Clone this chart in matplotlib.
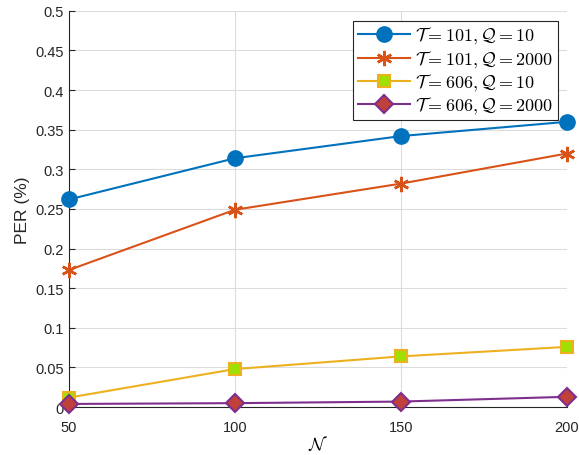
import numpy as np
import matplotlib
matplotlib.use("Agg")
import matplotlib.pyplot as plt

plt.rcParams["mathtext.fontset"] = "cm"
plt.rcParams["font.family"] = ["Liberation Sans", "DejaVu Sans"]

N = [50, 100, 150, 200]
per_t101_q10 = [0.262, 0.314, 0.342, 0.360]
per_t101_q2000 = [0.173, 0.249, 0.282, 0.320]
per_t606_q10 = [0.012, 0.048, 0.064, 0.076]
per_t606_q2000 = [0.004, 0.005, 0.007, 0.013]

labels = [r"$\mathcal{T}=101, \mathcal{Q}=10$",
          r"$\mathcal{T}=101, \mathcal{Q}=2000$",
          r"$\mathcal{T}=606, \mathcal{Q}=10$",
          r"$\mathcal{T}=606, \mathcal{Q}=2000$"]

fig = plt.figure(figsize=(5.79, 4.56), dpi=100)
ax = fig.add_axes([0.119, 0.105, 0.860, 0.869])

ax.plot(N, per_t101_q10, "-o", color="#0072BD", lw=1.5, ms=11,
        mfc="#0072BD", mec="#0072BD", label=labels[0], clip_on=False, zorder=5)
ax.plot(N, per_t101_q2000, "-", marker=(6, 2, 0), color="#D95319", lw=1.5, ms=11,
        mew=1.8, mec="#D95319", label=labels[1], clip_on=False, zorder=5)
ax.plot(N, per_t606_q10, "-s", color="#EDB120", lw=1.5, ms=9,
        mfc="#A0E000", mec="#EDB120", mew=1.5, label=labels[2], clip_on=False, zorder=5)
ax.plot(N, per_t606_q2000, "-D", color="#7E2F8E", lw=1.5, ms=9,
        mfc="#C0403A", mec="#7E2F8E", mew=1.5, label=labels[3], clip_on=False, zorder=5)

ax.set_xlim(50, 200)
ax.set_ylim(0, 0.5)
ax.set_xticks([50, 100, 150, 200])
ax.set_yticks(np.arange(0, 0.501, 0.05))
ax.set_yticklabels(["0", "0.05", "0.1", "0.15", "0.2", "0.25", "0.3", "0.35",
                    "0.4", "0.45", "0.5"])
ax.grid(True, color="#dcdcdc", lw=0.8)
ax.set_axisbelow(True)
for s in ["top", "right"]:
    ax.spines[s].set_visible(False)
ax.spines["left"].set_color("#262626")
ax.spines["bottom"].set_color("#262626")
ax.tick_params(direction="in", labelsize=10.5, colors="#262626", length=4)
ax.tick_params(axis="x", pad=9)
ax.set_xlabel(r"$\mathcal{N}$", fontsize=13, labelpad=0)
ax.set_ylabel("PER (%)", fontsize=12.5, color="#262626")

leg = ax.legend(loc="upper right", bbox_to_anchor=(0.982, 0.975), fontsize=13,
                fancybox=False, edgecolor="#262626", framealpha=1,
                handlelength=2.9, borderpad=0.25, labelspacing=0.12,
                handletextpad=0.3, borderaxespad=0)
leg.get_frame().set_linewidth(0.8)

fig.savefig("out.png", dpi=100)
